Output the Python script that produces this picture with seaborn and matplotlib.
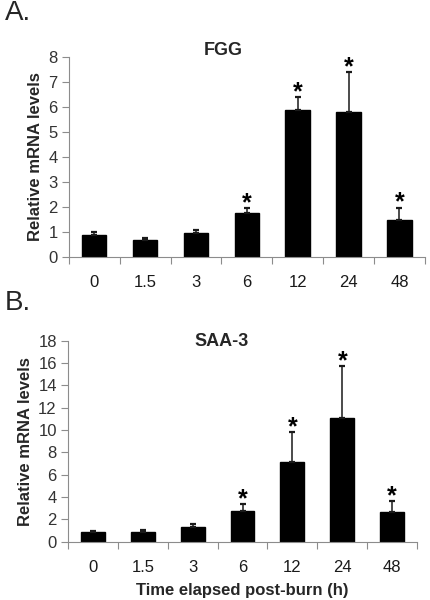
import numpy as np
import pandas as pd
import seaborn as sns
import matplotlib.pyplot as plt

times = ['0', '1.5', '3', '6', '12', '24', '48']

fgg_mean = [0.88, 0.69, 0.96, 1.76, 5.89, 5.80, 1.49]
fgg_err = [0.13, 0.08, 0.11, 0.19, 0.51, 1.60, 0.48]
fgg_sig = [False, False, False, True, True, True, True]

saa_mean = [0.84, 0.84, 1.37, 2.78, 7.13, 11.13, 2.63]
saa_err = [0.14, 0.20, 0.18, 0.62, 2.67, 4.57, 1.01]
saa_sig = [False, False, False, True, True, True, True]

sns.set_style('white')
plt.rcParams['font.family'] = ['Liberation Sans', 'DejaVu Sans']

fig = plt.figure(figsize=(4.3, 6), dpi=100)
ax_a = fig.add_axes([0.160, 0.572, 0.828, 0.333])
ax_b = fig.add_axes([0.158, 0.097, 0.812, 0.335])

grey = '#8c8c8c'


def panel(ax, mean, err, sig, title, ymax, ystep, title_pos):
    df = pd.DataFrame({'time': times, 'value': mean})
    sns.barplot(data=df, x='time', y='value', color='black', width=0.48,
                saturation=1, errorbar=None, ax=ax, edgecolor='black')
    x = np.arange(len(times))
    ax.errorbar(x, mean, yerr=[np.zeros(len(err)), err], fmt='none',
                ecolor='#1a1a1a', elinewidth=1.1, capsize=2.2, capthick=1.6)
    for xi, m, e, s in zip(x, mean, err, sig):
        if s:
            ax.annotate('*', (xi, m + e), xytext=(0, -1.5),
                        textcoords='offset points', ha='center', va='baseline',
                        fontsize=18, fontweight='bold', color='black')
    ax.set_xlim(-0.5, len(times) - 0.5)
    ax.set_ylim(0, ymax)
    ax.set_yticks(np.arange(0, ymax + 0.01, ystep))
    ax.set_xticks(np.arange(-0.5, len(times)), minor=True)
    ax.tick_params(axis='x', which='major', length=0, pad=13, labelsize=12,
                   labelcolor='#1a1a1a')
    ax.tick_params(axis='x', which='minor', length=5, color=grey, width=0.8,
                   direction='out', bottom=True)
    ax.tick_params(axis='y', length=5, color=grey, width=0.8, direction='out',
                   left=True, labelsize=12, labelcolor='#333333', pad=3)
    for side in ['top', 'right']:
        ax.spines[side].set_visible(False)
    for side in ['left', 'bottom']:
        ax.spines[side].set_color(grey)
        ax.spines[side].set_linewidth(0.8)
    ax.set_ylabel('Relative mRNA levels', fontsize=12, fontweight='bold',
                  labelpad=4)
    ax.set_xlabel('')
    ax.text(title_pos[0], title_pos[1], title, transform=ax.transAxes,
            ha='center', va='center', fontsize=13, fontweight='bold')


panel(ax_a, fgg_mean, fgg_err, fgg_sig, 'FGG', 8, 1, (0.433, 1.035))
panel(ax_b, saa_mean, saa_err, saa_sig, 'SAA-3', 18, 2, (0.441, 0.995))
ax_b.set_xlabel('Time elapsed post-burn (h)', fontsize=12, fontweight='bold',
                labelpad=6)

fig.text(0.012, 0.978, 'A.', fontsize=20, va='center', ha='left')
fig.text(0.012, 0.495, 'B.', fontsize=20, va='center', ha='left')

fig.savefig('out.png', dpi=100)
